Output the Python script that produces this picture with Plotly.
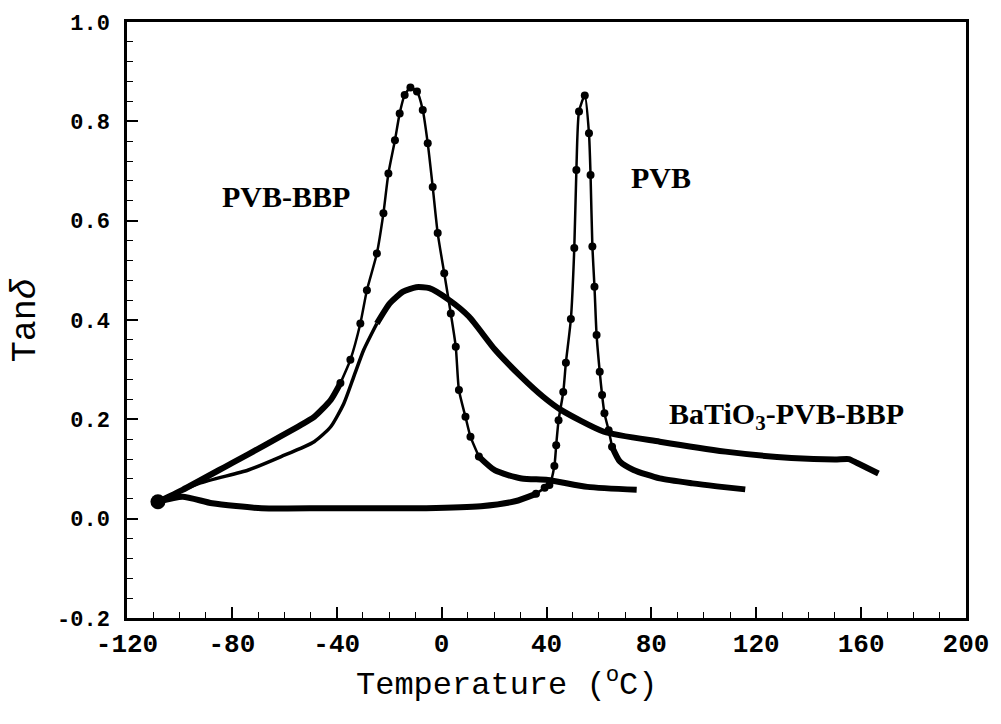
import plotly.graph_objects as go

# ---------------- data ----------------
# PVB (narrow peak near 55 C)
pvb_x = [-108.2, -98.8, -87.5, -68.7, -43.6, -5.9, 15.0, 28.0, 36.0, 39.3, 41.1, 43.0, 43.7,
         44.6, 46.4, 47.4, 49.3, 50.6, 51.4, 52.4, 54.6, 56.2, 56.8, 57.5, 58.3, 59.1, 60.3,
         61.2, 62.1, 63.7, 65.0, 68.0, 73.2, 83.2, 95.7, 105.0, 115.8]
pvb_y = [0.034, 0.044, 0.031, 0.021, 0.021, 0.021, 0.025, 0.035, 0.050, 0.062, 0.068, 0.106, 0.148,
         0.198, 0.255, 0.314, 0.402, 0.545, 0.702, 0.820, 0.852, 0.776, 0.692, 0.548, 0.467, 0.370,
         0.296, 0.249, 0.212, 0.178, 0.145, 0.115, 0.098, 0.081, 0.071, 0.065, 0.059]

# PVB-BBP (peak near -12 C)
pbb_x = [-108.2, -98.8, -80.0, -67.4, -54.9, -48.6, -42.3, -38.6, -34.8, -31.0, -28.5, -24.7,
         -22.2, -20.3, -17.8, -16.0, -14.1, -11.9, -9.4, -7.2, -5.3, -3.4, -1.5, 1.0, 3.5, 5.4,
         6.6, 9.1, 11.0, 14.2, 20.4, 30.5, 40.5, 55.6, 74.4]
pbb_y = [0.034, 0.058, 0.112, 0.148, 0.185, 0.205, 0.239, 0.273, 0.320, 0.393, 0.460, 0.534,
         0.615, 0.695, 0.762, 0.816, 0.853, 0.868, 0.860, 0.823, 0.756, 0.668, 0.575, 0.494, 0.413,
         0.346, 0.259, 0.205, 0.165, 0.125, 0.097, 0.081, 0.078, 0.064, 0.058]

# BaTiO3-PVB-BBP (broad peak near -8 C)
bat_x = [-108.2, -92.5, -73.7, -61.2, -48.6, -42.3, -37.3, -33.5, -29.7, -24.7, -19.7, -14.7,
         -9.7, -4.7, 2.9, 10.4, 20.4, 30.5, 38.6, 45.5, 61.9, 83.2, 108.3, 133.4, 150.0, 155.3,
         158.5, 166.6]
bat_y = [0.034, 0.071, 0.098, 0.125, 0.155, 0.185, 0.232, 0.286, 0.340, 0.393, 0.434, 0.457,
         0.466, 0.464, 0.440, 0.407, 0.340, 0.285, 0.246, 0.219, 0.175, 0.155, 0.135, 0.122,
         0.119, 0.120, 0.112, 0.091]

x_tickvals = [-120, -80, -40, 0, 40, 80, 120, 160, 200]
x_ticktext = ["-120", "-80", "-40", "0", "40", "80", "120", "160", "200"]
y_tickvals = [-0.2, 0.0, 0.2, 0.4, 0.6, 0.8, 1.0]
y_ticktext = ["-0.2", "0.0", "0.2", "0.4", "0.6", "0.8", "1.0"]

labels = ["PVB-BBP", "PVB", "BaTiO<sub>3</sub>-PVB-BBP"]
label_x = [-59.4, 83.7, 131.5]
label_y = [0.648, 0.686, 0.207]

x_title = "Temperature (<sup>o</sup>C)"
y_title = "Tan<i>δ</i>"

# ---------------- figure ----------------
fig = go.Figure()

def seg(xs, ys, width, markers=False):
    fig.add_trace(go.Scatter(x=xs, y=ys, mode="lines+markers" if markers else "lines",
                             line=dict(color="black", width=width, shape="spline", smoothing=0.6),
                             marker=dict(color="black", size=8), hoverinfo="skip"))

# PVB: bottom part thick, peak with thin line + dots
seg(pvb_x[:9], pvb_y[:9], 6)
seg(pvb_x[8:31], pvb_y[8:31], 2.5, markers=True)
seg(pvb_x[30:], pvb_y[30:], 6)

# PVB-BBP
seg(pbb_x[:8], pbb_y[:8], 6)
seg(pbb_x[7:30], pbb_y[7:30], 2.5, markers=True)
seg(pbb_x[29:], pbb_y[29:], 6)

# BaTiO3-PVB-BBP
seg(bat_x[:10], bat_y[:10], 3.5)
seg(bat_x[9:], bat_y[9:], 6)

# big starting blob
fig.add_trace(go.Scatter(x=[pvb_x[0]], y=[pvb_y[0]], mode="markers",
                         marker=dict(color="black", size=15), hoverinfo="skip"))

for t, xx, yy in zip(labels, label_x, label_y):
    fig.add_annotation(x=xx, y=yy, text=t, showarrow=False,
                       font=dict(family="Liberation Serif", size=30, color="black", weight="bold"))

fig.add_annotation(xref="paper", yref="paper", x=0.452, y=-0.109,
                   xanchor="center", yanchor="middle",
                   text=x_title, showarrow=False,
                   font=dict(family="Liberation Mono", size=32, color="black"))
fig.add_annotation(xref="paper", yref="paper", x=-0.12, y=0.5, textangle=-90,
                   xanchor="center", yanchor="middle",
                   text=y_title, showarrow=False,
                   font=dict(family="Liberation Mono", size=35, color="black"))

fig.update_xaxes(range=[-120, 200], tickvals=x_tickvals, ticktext=x_ticktext,
                 ticks="inside", ticklen=11, tickwidth=1.5, tickcolor="black",
                 minor=dict(dtick=10, ticks="inside", ticklen=6, tickcolor="black", tickwidth=1),
                 showline=True, linewidth=2.5, linecolor="black", mirror=True,
                 showgrid=False, zeroline=False,
                 tickfont=dict(family="Liberation Mono", size=26, color="black", weight="bold"))
fig.update_yaxes(range=[-0.2, 1.0], tickvals=y_tickvals, ticktext=y_ticktext,
                 ticks="inside", ticklen=11, tickwidth=1.5, tickcolor="black",
                 minor=dict(dtick=0.04, ticks="inside", ticklen=6, tickcolor="black", tickwidth=1),
                 showline=True, linewidth=2.5, linecolor="black", mirror=True,
                 showgrid=False, zeroline=False, ticklabelstandoff=10,
                 tickfont=dict(family="Liberation Mono", size=22, color="black", weight="bold"))

fig.update_layout(width=1001, height=724, showlegend=False,
                  plot_bgcolor="white", paper_bgcolor="white",
                  margin=dict(l=127, r=24, t=22, b=106))

fig.write_html("out.html")
